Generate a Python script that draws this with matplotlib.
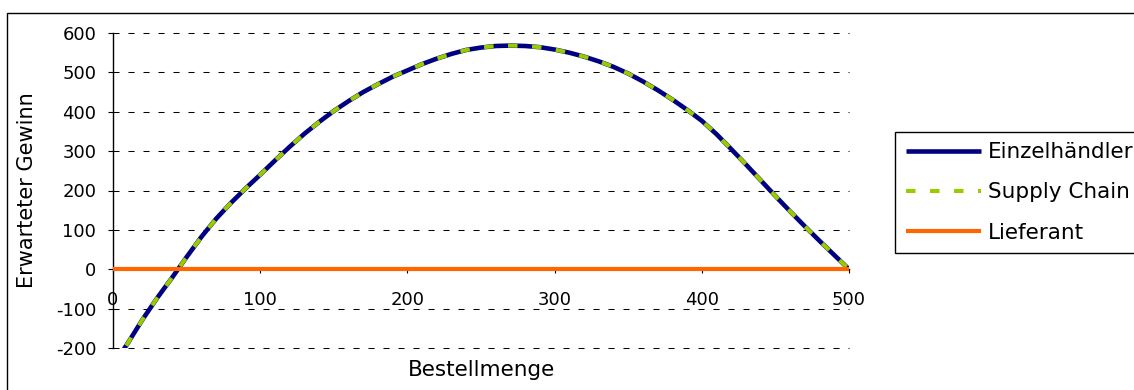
import matplotlib
matplotlib.use("Agg")
import matplotlib.pyplot as plt
from matplotlib.patches import Rectangle

plt.rcParams["axes.unicode_minus"] = False

# Bestellmenge (order quantity)
bestellmenge = [0, 10, 20, 30, 40, 50, 60, 70, 80, 90,
                100, 110, 120, 130, 140, 150, 160, 170, 180, 190,
                200, 210, 220, 230, 240, 250, 260, 270, 280, 290,
                300, 310, 320, 330, 340, 350, 360, 370, 380, 390,
                400, 410, 420, 430, 440, 450, 460, 470, 480, 490, 500]

# Erwarteter Gewinn des Einzelhändlers
gewinn_einzelhaendler = [-245, -188, -128, -73, -22, 31, 82, 128, 168, 205,
                         240, 276, 311, 344, 374, 402, 427, 450, 470, 489,
                         505, 521, 535, 547, 557, 563, 567, 568, 567, 564,
                         558, 550, 540, 528, 514, 497, 477, 455, 431, 405,
                         377, 343, 305, 266, 226, 186, 147, 109, 72, 36, 0]

# Erwarteter Gewinn des Lieferanten
gewinn_lieferant = [0] * len(bestellmenge)

# Supply Chain = Einzelhändler + Lieferant
gewinn_supply_chain = [a + b for a, b in zip(gewinn_einzelhaendler, gewinn_lieferant)]

x_ticks = [0, 100, 200, 300, 400, 500]
y_ticks = [-200, -100, 0, 100, 200, 300, 400, 500, 600]

W, H = 1134, 390
fig = plt.figure(figsize=(W / 100, H / 100), dpi=100)
fig.patch.set_facecolor("white")

# chart border
fig.add_artist(Rectangle((7 / W, -0.5), 2.0, 1.5 - 13 / H, transform=fig.transFigure,
                         fill=False, edgecolor="black", linewidth=1.0))

ax = fig.add_axes([113 / W, 42 / H, (849 - 113) / W, (348 - 33) / H])
ax.set_facecolor("none")

ax.set_xlim(0, 500)
ax.set_ylim(-200, 600)

for y in y_ticks:
    ax.plot([0, 500], [y, y], color="black", linewidth=0.75,
            linestyle=(0, (5.8, 8.6)), zorder=1, clip_on=False)

ax.spines["top"].set_visible(False)
ax.spines["right"].set_visible(False)
ax.spines["bottom"].set_position(("data", 0))
ax.spines["left"].set_linewidth(1.0)
ax.spines["bottom"].set_linewidth(1.0)

ax.set_xticks(x_ticks)
ax.set_yticks(y_ticks)
ax.tick_params(axis="y", direction="out", length=3.6, width=0.8, pad=8.4, labelsize=13)
ax.tick_params(axis="x", direction="out", length=3, width=0.8, pad=12.5, labelsize=13)

l1, = ax.plot(bestellmenge, gewinn_einzelhaendler, color="#000080", linewidth=3.3,
              solid_capstyle="butt", zorder=3, label="Einzelhändler")
l2, = ax.plot(bestellmenge, gewinn_supply_chain, color="#99CC00", linewidth=2.9,
              linestyle=(0, (2.36, 3.6)), zorder=4, label="Supply Chain")
l3, = ax.plot(bestellmenge, gewinn_lieferant, color="#FF6600", linewidth=3.0,
              solid_capstyle="butt", zorder=5, label="Lieferant", clip_on=False)

fig.text(27 / W, 1 - 190 / H, "Erwarteter Gewinn", rotation=90,
         ha="center", va="center", fontsize=15)
fig.text(481 / W, 1 - 360 / H, "Bestellmenge", ha="center", va="top", fontsize=15.5)

leg = fig.legend(handles=[l1, l2, l3], loc="upper left",
                 bbox_to_anchor=(895 / W, 1 - 131.7 / H), bbox_transform=fig.transFigure,
                 fontsize=15.5, frameon=True, fancybox=False, shadow=False,
                 borderpad=0.5, labelspacing=0.93, handlelength=3.5,
                 handletextpad=0.3, borderaxespad=0)
leg.get_frame().set_edgecolor("black")
leg.get_frame().set_linewidth(1.0)
leg.get_frame().set_alpha(1)

fig.savefig("out.png", dpi=100)
